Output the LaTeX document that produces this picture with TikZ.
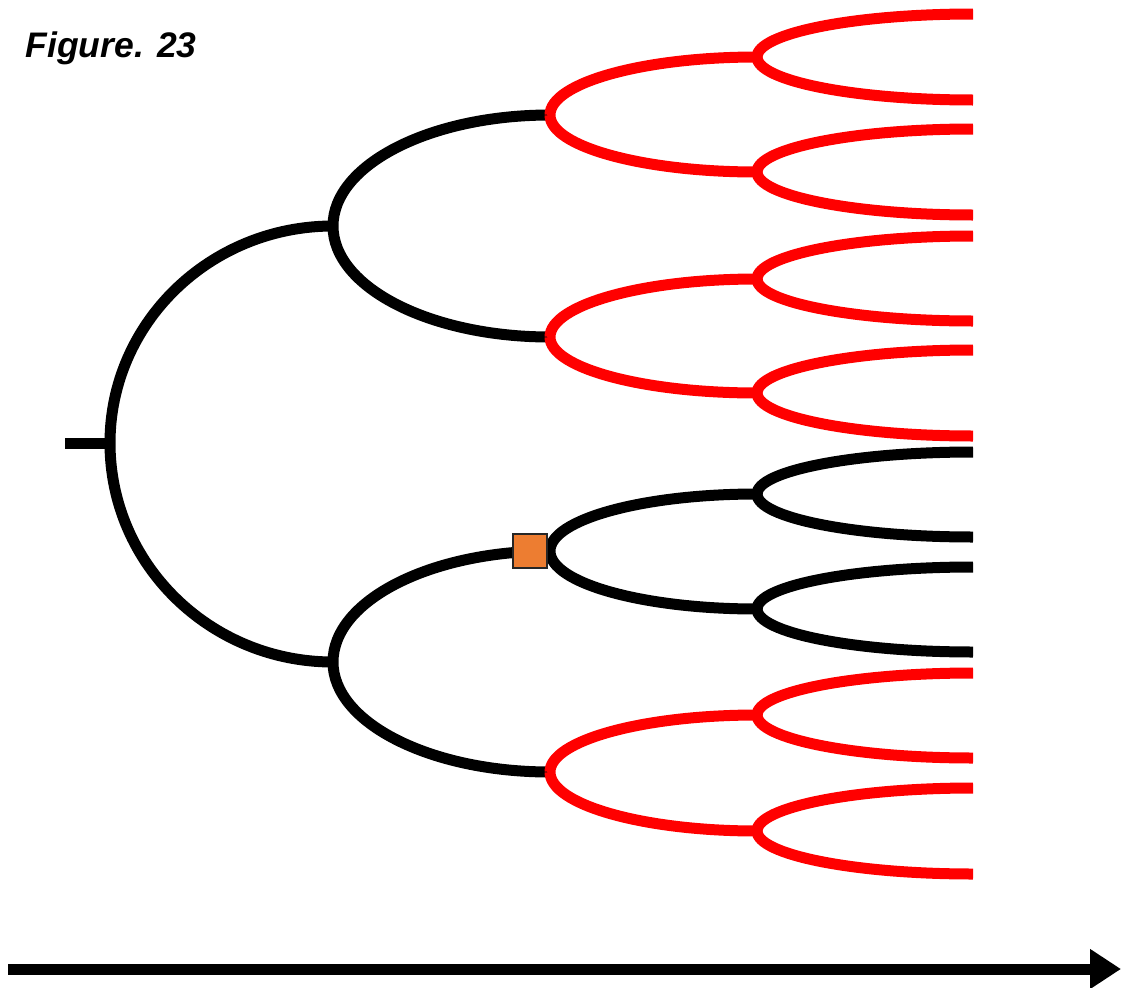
\documentclass[tikz,border=0pt]{standalone}
\usepackage{fontspec}
\newfontfamily\figfont{Liberation Sans}
\usepackage{xcolor}
\usetikzlibrary{arrows.meta,calc}
\definecolor{boxorange}{HTML}{ED7D31}
\tikzset{
  branch/.style = {line width=11pt},
  fork/.style = {
    to path = {.. controls ($(\tikztostart)!0.5523!(\tikztostart|-\tikztotarget)$)
      and ($(\tikztotarget)!0.5523!(\tikztostart|-\tikztotarget)$) .. (\tikztotarget)}
  },
  mutbox/.style = {draw=black!85, line width=1.5pt, fill=boxorange,
    minimum size=34pt, inner sep=0pt}
}

\begin{document}
\begin{tikzpicture}[x=1pt,y=-1pt]
\useasboundingbox (0,0) rectangle (1122,988);

\node[anchor=base west, font=\figfont\bfseries\itshape\fontsize{35.5}{40}\selectfont]
  (title) at (22,57) {Figure. 23};

% junctions
\coordinate (s) at (65,443);
\coordinate (r) at (110,443);
\coordinate (a1) at (333,226);
\coordinate (a2) at (333,662);
\foreach \n/\y in {1/115,2/337,3/551,4/772}
  \coordinate (b\n) at (550,\y);
\foreach \n/\y in {1/57,2/172,3/279,4/393,5/494,6/609,7/715,8/831}
  \coordinate (c\n) at (757,\y);
\foreach \n/\y in {1/14,2/100,3/129,4/215,5/236,6/321,7/350,8/436,
                   9/452,10/537,11/567,12/652,13/673,14/758,15/788,16/874}
  \coordinate (d\n) at (973,\y);

% black part of the tree
\draw[branch] (s) -- (r);
\draw[branch] (r) to[fork] (a1) (r) to[fork] (a2);
\draw[branch] (a1) to[fork] (b1) (a1) to[fork] (b2);
\draw[branch] (a2) to[fork] (b3) (a2) to[fork] (b4);
\draw[branch] (b3) to[fork] (c5) (b3) to[fork] (c6);
\draw[branch] (c5) to[fork] (d9) (c5) to[fork] (d10);
\draw[branch] (c6) to[fork] (d11) (c6) to[fork] (d12);

% red part
\foreach \p/\u/\v in {b1/c1/c2, b2/c3/c4, b4/c7/c8}
  \draw[branch, red] (\p) to[fork] (\u) (\p) to[fork] (\v);
\foreach \p/\u/\v in {c1/d1/d2, c2/d3/d4, c3/d5/d6, c4/d7/d8,
                      c7/d13/d14, c8/d15/d16}
  \draw[branch, red] (\p) to[fork] (\u) (\p) to[fork] (\v);

\node[mutbox] (mut) at (530,551) {};

% time axis
\coordinate (t0) at (8,969);
\coordinate (t1) at (1121,969);
\draw[branch, -{Triangle[length=31pt,width=38pt]}] (t0) -- (t1);

\end{tikzpicture}
\end{document}
